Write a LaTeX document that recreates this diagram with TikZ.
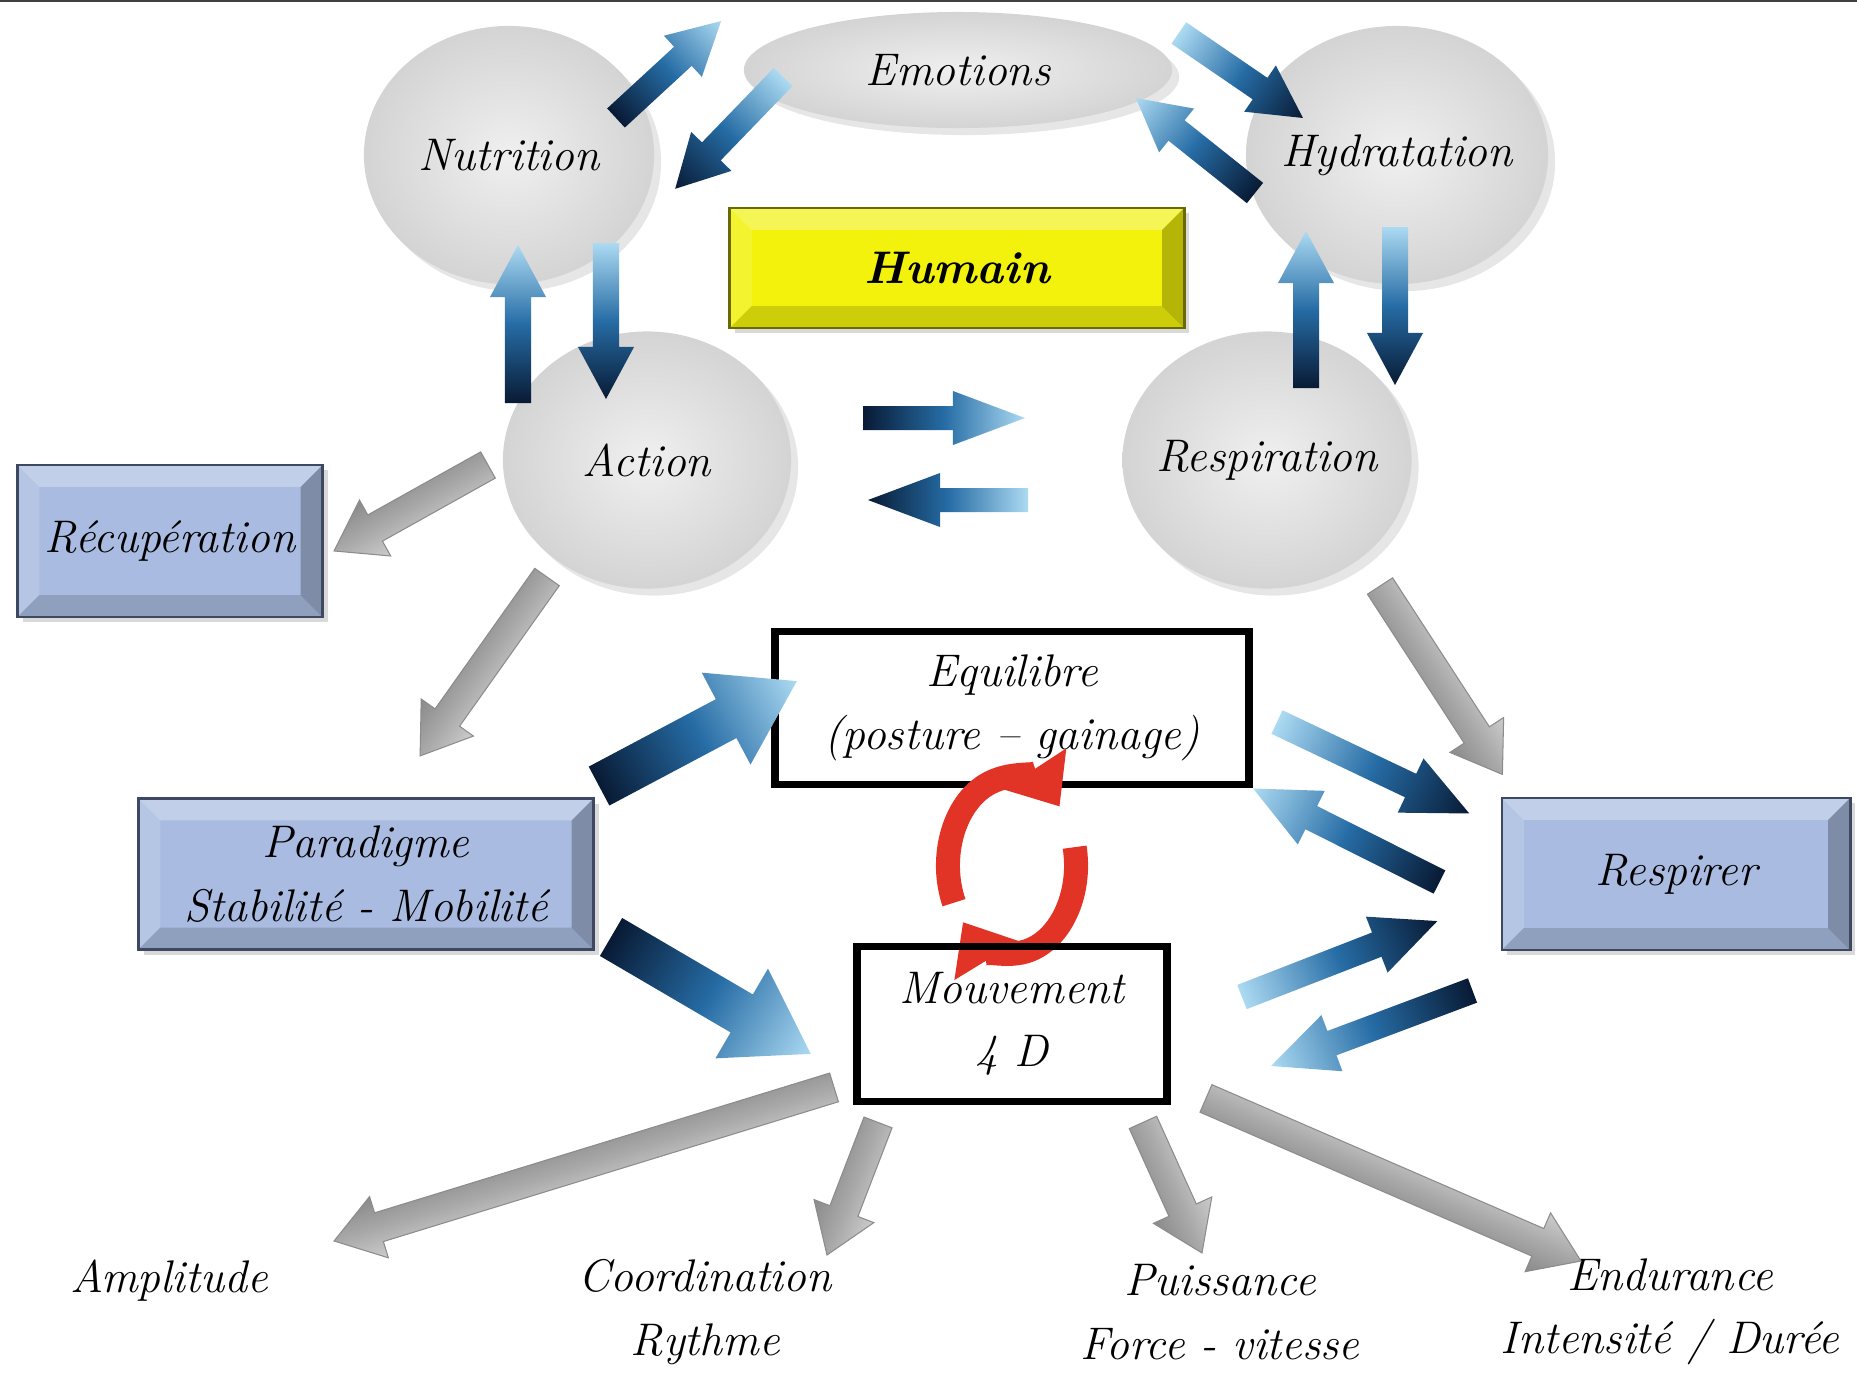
\documentclass[tikz,border=0pt]{standalone}
\usepackage{tikz}
\usetikzlibrary{shapes.geometric,shadows,arrows.meta}

\definecolor{navyA}{RGB}{8,26,52}
\definecolor{midB}{RGB}{38,108,165}
\definecolor{lightB}{RGB}{172,218,242}
\definecolor{boxblue}{RGB}{169,187,224}
\definecolor{boxedge}{RGB}{62,72,96}
\definecolor{humyel}{RGB}{242,242,12}
\definecolor{humedge}{RGB}{105,105,0}
\definecolor{redcyc}{RGB}{226,52,38}

\newcommand\fatw{0.13cm}
\newcommand\fath{0.28cm}
\newcommand\fatl{0.52cm}

% block arrow from #2 to #3
\newcommand\fatarrow[3][]{%
  \path (#2) coordinate (fa-s) (#3) coordinate (fa-e);
  \pgfpointdiff{\pgfpointanchor{fa-s}{center}}{\pgfpointanchor{fa-e}{center}}%
  \pgfgetlastxy\fadx\fady
  \pgfmathsetmacro\faang{atan2(\fady,\fadx)}%
  \pgfmathsetmacro\falen{veclen(\fadx,\fady)}%
  \path[#1, transform canvas={shift={(fa-s)}, rotate=\faang}]
    (0pt,-\fatw) -- ({\falen*1pt-\fatl},-\fatw) -- ({\falen*1pt-\fatl},-\fath)
    -- ({\falen*1pt},0pt) -- ({\falen*1pt-\fatl},\fath) -- ({\falen*1pt-\fatl},\fatw)
    -- (0pt,\fatw) -- cycle;
}

\begin{document}
\begin{tikzpicture}[x=0.01cm, y=-0.01cm,
        txt/.style={font=\itshape\fontsize{13}{18}\selectfont, align=center},
        bubble/.style={ellipse, txt, inner sep=-0.1cm, inner color=gray!12, outer color=gray!34,
            drop shadow={opacity=0.2, shadow xshift=2pt, shadow yshift=-2pt}},
        bevel/.style={path picture={
            \coordinate (pnw) at (path picture bounding box.north west);
            \coordinate (pne) at (path picture bounding box.north east);
            \coordinate (psw) at (path picture bounding box.south west);
            \coordinate (pse) at (path picture bounding box.south east);
            \fill[white, opacity=0.3] (pnw) -- (pne) -- ([shift={(-0.22cm,-0.22cm)}]pne) -- ([shift={(0.22cm,-0.22cm)}]pnw) -- cycle;
            \fill[white, opacity=0.15] (pnw) -- ([shift={(0.22cm,-0.22cm)}]pnw) -- ([shift={(0.22cm,0.22cm)}]psw) -- (psw) -- cycle;
            \fill[black, opacity=0.15] (psw) -- ([shift={(0.22cm,0.22cm)}]psw) -- ([shift={(-0.22cm,0.22cm)}]pse) -- (pse) -- cycle;
            \fill[black, opacity=0.25] (pne) -- ([shift={(-0.22cm,-0.22cm)}]pne) -- ([shift={(-0.22cm,0.22cm)}]pse) -- (pse) -- cycle;
        }},
        bluebox/.style={rectangle, txt, fill=boxblue, draw=boxedge, line width=0.8pt, bevel,
            drop shadow={opacity=0.3, shadow xshift=1.5pt, shadow yshift=-1.5pt}},
        yellowbox/.style={rectangle, txt, fill=humyel, draw=humedge, line width=0.8pt, bevel,
            drop shadow={opacity=0.3, shadow xshift=1.5pt, shadow yshift=-1.5pt}},
        framebox/.style={rectangle, txt, draw=black, line width=2.2pt},
        lbl/.style={txt},
        fatsize/.code args={#1/#2/#3}{\def\fatw{#1}\def\fath{#2}\def\fatl{#3}},
        fatbig/.style={fatsize=0.22cm/0.52cm/0.8cm},
        fatmid/.style={fatsize=0.13cm/0.3cm/0.65cm},
        fatlong/.style={fatsize=0.12cm/0.27cm/0.72cm},
        outarr/.style={left color=navyA, right color=lightB, middle color=midB},
        inarr/.style={left color=lightB, right color=navyA, middle color=midB},
        grayarr/.style={top color=gray!40, bottom color=gray!92, middle color=gray!68,
            draw=gray!90, line width=0.3pt, fatsize=0.15cm/0.32cm/0.47cm},
        cycarr/.style={draw=redcyc, line width=0.24cm, -{Triangle[width=0.72cm,length=0.45cm]}}
    ]
        \useasboundingbox (0,0) rectangle (1857,1375);
        \draw[line width=0.7pt, black!75] (0,1) -- (1857,1);

        % bubbles
        \node[bubble, minimum width=2.90cm, minimum height=2.58cm] (nut) at (509,155) {Nutrition};
        \node[bubble, minimum width=4.28cm, minimum height=1.16cm] (emo) at (958,70) {Emotions};
        \node[bubble, minimum width=3.02cm, minimum height=2.58cm] (hyd) at (1397,155) {Hydratation};
        \node[bubble, minimum width=2.88cm, minimum height=2.57cm] (act) at (647,460) {Action};
        \node[bubble, minimum width=2.89cm, minimum height=2.57cm] (resp) at (1267,460) {Respiration};

        % boxes
        \node[yellowbox, minimum width=4.54cm, minimum height=1.20cm] (hum) at (957,268) {\bfseries Humain};
        \node[bluebox, minimum width=3.05cm, minimum height=1.52cm] (rec) at (170,541) {Récupération};
        \node[bluebox, minimum width=4.55cm, minimum height=1.51cm] (par) at (366,874) {Paradigme\\Stabilité - Mobilité};
        \node[bluebox, minimum width=3.48cm, minimum height=1.52cm] (rsp) at (1676,874) {Respirer};
        \node[framebox, minimum width=4.74cm, minimum height=1.53cm] (equ) at (1012,708) {Equilibre\\(posture – gainage)};

        % cycle
        \coordinate (cyc) at ([yshift=-0.77cm]equ.south);
        \draw[cycarr] ([shift={(205:0.64cm and 0.88cm)}]cyc) arc[start angle=205, end angle=42, x radius=0.64cm, y radius=0.88cm];
        \draw[cycarr] ([shift={(12:0.64cm and 0.88cm)}]cyc) arc[start angle=12, end angle=-140, x radius=0.64cm, y radius=0.88cm];

        \node[framebox, minimum width=3.10cm, minimum height=1.55cm] (mouv) at (1012,1024) {Mouvement\\4 D};

        % labels
        \node[lbl] (amp) at (169,1281) {Amplitude};
        \node[lbl] (coo) at (705,1312) {Coordination\\Rythme};
        \node[lbl] (pui) at (1220,1312) {Puissance\\Force - vitesse};
        \node[lbl] (endu) at (1670,1312) {Endurance\\Intensité / Durée};

        % top cycle
        \fatarrow[outarr]{[shift={(107,-37)}]nut.center}{[shift={(-22,-49)}]emo.west}
        \fatarrow[inarr]{[shift={(40,7)}]emo.west}{[shift={(166,34)}]nut.center}
        \fatarrow[inarr]{[shift={(6,-37)}]emo.east}{[shift={(-94,-37)}]hyd.center}
        \fatarrow[outarr]{[shift={(-142,38)}]hyd.center}{[shift={(-37,28)}]emo.east}
        \fatarrow[outarr]{[shift={(-129,-57)}]act.center}{[shift={(9,90)}]nut.center}
        \fatarrow[inarr]{[shift={(97,88)}]nut.center}{[shift={(-41,-61)}]act.center}
        \fatarrow[outarr]{[shift={(39,-72)}]resp.center}{[shift={(-91,76)}]hyd.center}
        \fatarrow[inarr]{[shift={(-2,72)}]hyd.center}{[shift={(128,-75)}]resp.center}
        \fatarrow[outarr,fatlong]{[shift={(216,-42)}]act.center}{[shift={(-242,-42)}]resp.center}
        \fatarrow[inarr,fatlong]{[shift={(-239,40)}]resp.center}{[shift={(221,40)}]act.center}

        % paradigme and respirer
        \fatarrow[outarr,fatbig]{[shift={(4,-11)}]par.north east}{[shift={(26,-27)}]equ.west}
        \fatarrow[outarr,fatbig]{[shift={(16,-14)}]par.south east}{[shift={(-42,30)}]mouv.west}
        \fatarrow[inarr,fatmid]{[shift={(24,14)}]equ.east}{[shift={(-31,17)}]rsp.north west}
        \fatarrow[outarr,fatmid]{[shift={(-61,8)}]rsp.west}{equ.south east}
        \fatarrow[inarr,fatmid]{[shift={(71,-27)}]mouv.east}{[shift={(-63,47)}]rsp.west}
        \fatarrow[outarr,fatmid]{[shift={(-28,39)}]rsp.south west}{[shift={(100,42)}]mouv.east}

        % gray arrows
        \fatarrow[grayarr]{[shift={(-159,5)}]act.center}{[shift={(10,10)}]rec.east}
        \fatarrow[grayarr]{[shift={(-100,117)}]act.center}{[shift={(54,-41)}]par.north}
        \fatarrow[grayarr]{[shift={(113,126)}]resp.center}{[shift={(2,-22)}]rsp.north west}
        \fatarrow[grayarr]{[shift={(-19,-18)}]mouv.south west}{[shift={(165,-40)}]amp.center}
        \fatarrow[grayarr]{[shift={(25,17)}]mouv.south west}{[shift={(122,-57)}]coo.center}
        \fatarrow[grayarr]{[shift={(-28,17)}]mouv.south east}{[shift={(-18,-59)}]pui.center}
        \fatarrow[grayarr]{[shift={(35,-7)}]mouv.south east}{[shift={(-89,-51)}]endu.center}
    \end{tikzpicture}
\end{document}
